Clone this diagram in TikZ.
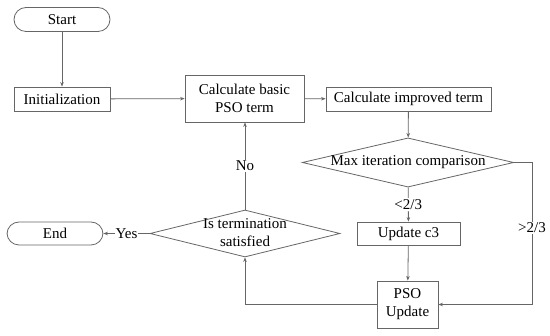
\documentclass[tikz,border=0pt]{standalone}
\usepackage{fontspec}
\setmainfont{Liberation Serif}
\usetikzlibrary{shapes.geometric,arrows.meta}
\tikzset{
	procbox/.style={rectangle,draw=black!60,line width=0.8pt,align=center,inner sep=0pt},
	terminal/.style={rectangle,rounded corners=12pt,draw=black!60,line width=0.8pt,minimum width=96pt,minimum height=24pt,inner sep=0pt},
	decision/.style={diamond,draw=black!60,line width=0.8pt,inner sep=0pt,aspect=4.3,minimum height=47pt},
	flow/.style={draw=black!60,line width=0.8pt,-{Stealth[length=4.5pt,width=3.5pt]}},
	cond/.style={fill=white,inner sep=1pt}
}
\begin{document}
\begin{tikzpicture}[x=1pt,y=-1pt,font=\fontsize{15}{18}\selectfont]
		\useasboundingbox (0,0) rectangle (550,336);
		\node[terminal] (start) at (62,19.5) {Start};
		\node[procbox,minimum width=96pt,minimum height=24pt] (init) at (62,99) {Initialization};
		\node[procbox,minimum width=119pt,minimum height=47pt] (basic) at (244.5,98.5) {Calculate basic\\PSO term};
		\node[procbox,minimum width=165pt,minimum height=24pt] (improved) at (408.5,99) {Calculate improved term};
		\node[decision,minimum width=210pt] (maxit) at (408,162.5) {Max iteration comparison};
		\node[procbox,minimum width=103pt,minimum height=23pt] (updc) at (408.5,233.5) {Update c3};
		\node[procbox,minimum width=61pt,minimum height=47pt] (pso) at (407.5,304.5) {PSO\\Update};
		\node[decision,minimum width=190pt] (term) at (245,233.5) {\makebox[0pt]{\begin{tabular}{@{}c@{}}Is termination\\satisfied\end{tabular}}};
		\node[terminal,minimum height=23pt] (end) at (55,233.5) {End};
		\coordinate (rt) at (532,162.5);
		
		\draw[flow] (start)--(init);
		\draw[flow] (init)--(basic);
		\draw[flow] (basic)--(improved);
		\draw[flow] (improved)--(maxit);
		\draw[flow] (maxit)--node[cond]{<2/3}(updc);
		\draw[flow] (updc)--(pso);
		\draw[flow] (maxit.east)--(rt)|-node[cond,pos=0.23]{>2/3}(pso.east);
		\draw[flow] (pso.west)-|(term.south);
		\draw[flow] (term.north)--node[cond]{No}(basic.south-|term.north);
		\draw[flow] (term.west)--node[cond]{Yes}(end.east);
	\end{tikzpicture}
\end{document}
